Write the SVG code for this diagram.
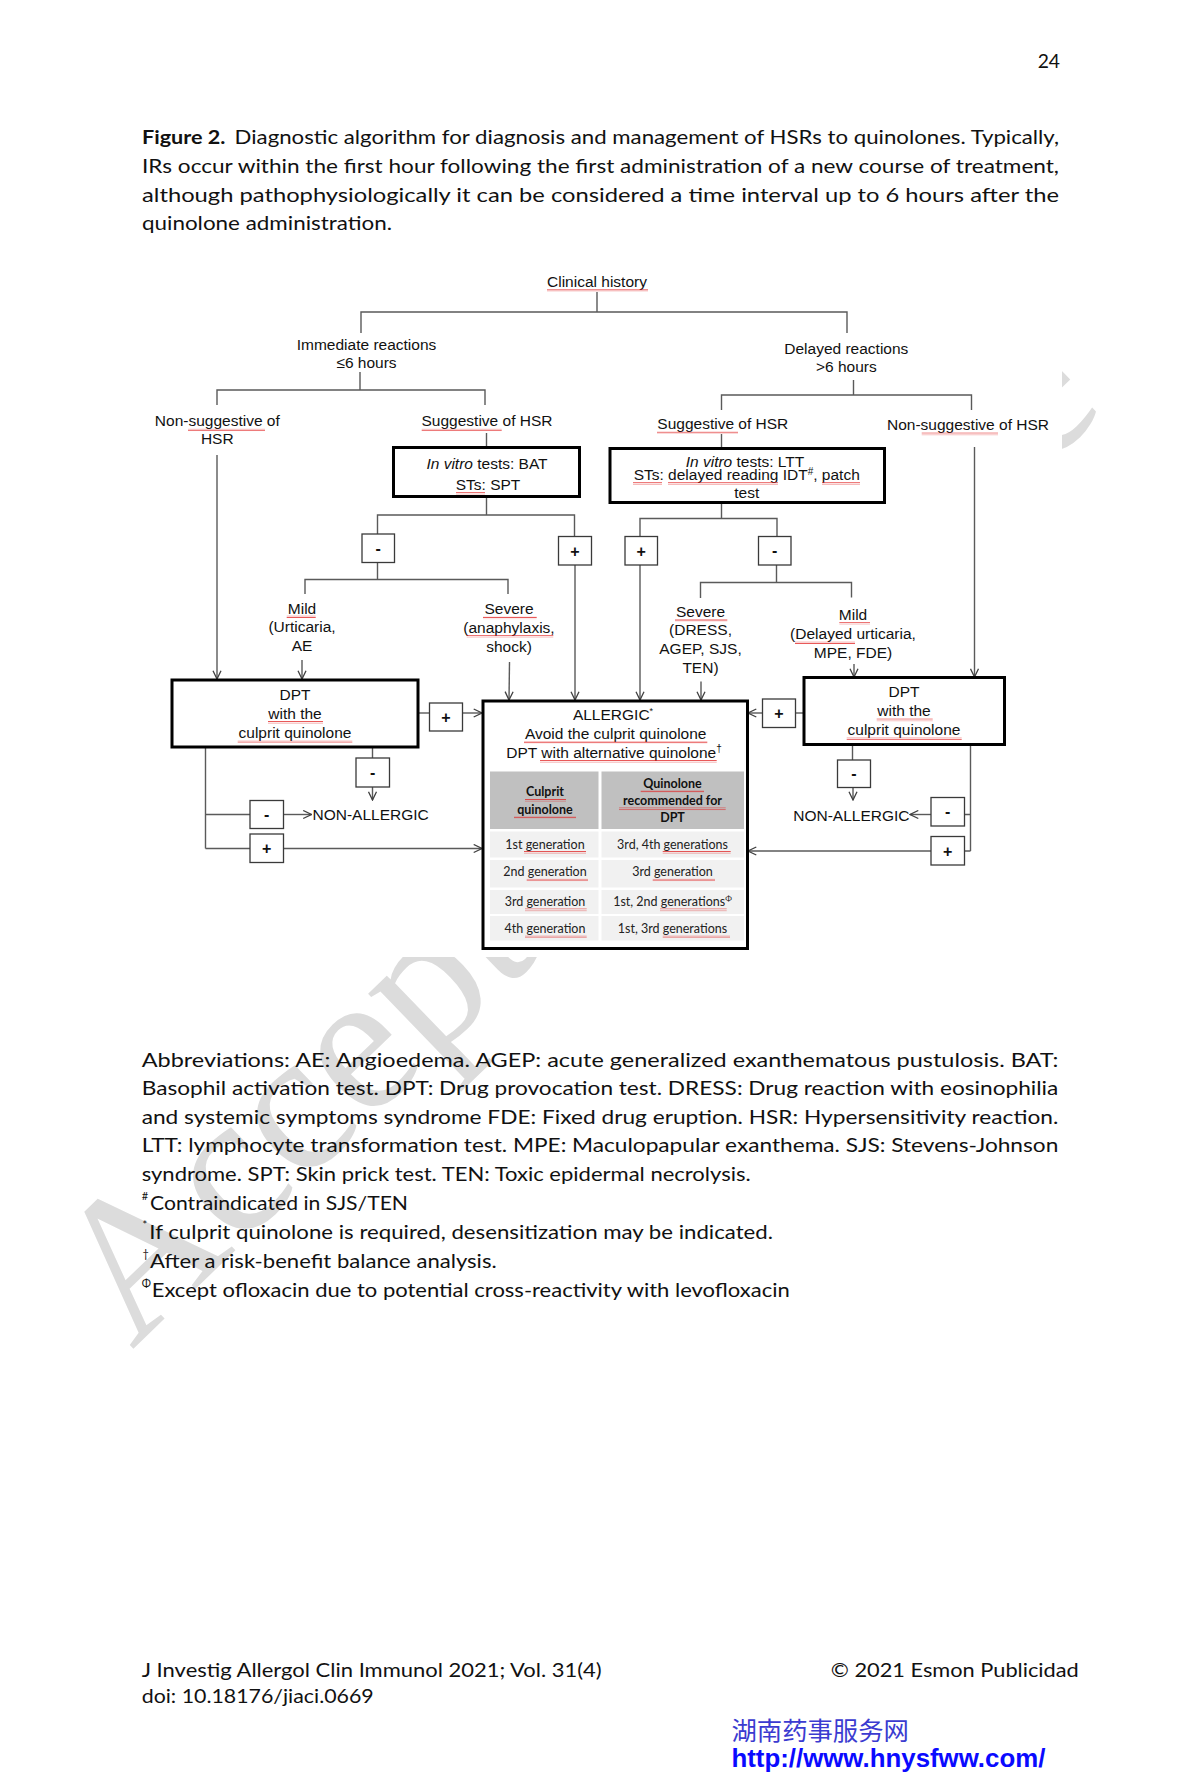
<svg xmlns="http://www.w3.org/2000/svg" width="1200" height="1781" viewBox="0 0 1200 1781">
<defs>
<style>
.cal{font-family:Lato,"Open Sans","Liberation Sans",sans-serif;font-size:19.3px;fill:#111}
.sup{font-family:Lato,"Open Sans","Liberation Sans",sans-serif;font-size:11px;fill:#111}
.t{font-family:"Liberation Sans",Arial,sans-serif;font-size:15.5px;fill:#111;text-anchor:middle}
.ts{font-family:"Liberation Sans",Arial,sans-serif;font-size:15.5px;fill:#111}
.pm{font-family:"Liberation Sans",Arial,sans-serif;font-size:16px;font-weight:bold;fill:#111;text-anchor:middle}
.tb{font-family:Lato,"Open Sans",sans-serif;font-size:12.5px;fill:#222;text-anchor:middle}
.tbh{font-family:Lato,"Open Sans",sans-serif;font-size:12.5px;font-weight:bold;fill:#111;text-anchor:middle}
.ln{stroke:#5a5a5a;stroke-width:1.4;fill:none}
.ar{stroke:#5a5a5a;stroke-width:1.4;fill:none;marker-end:url(#ah)}
.box{fill:#fff;stroke:#000;stroke-width:3}
.sb{fill:#fff;stroke:#3a3a3a;stroke-width:1.3}
.sq{fill:url(#wave)}
.hd{fill:#c0c0c0}
.rw{fill:#f1f1f1}
</style>
<marker id="ah" viewBox="0 0 10 10" refX="9.3" refY="5" markerWidth="10" markerHeight="10" markerUnits="userSpaceOnUse" orient="auto">
<path d="M1,1 L9.3,5 L1,9" fill="none" stroke="#404040" stroke-width="1.3"/>
</marker>
<pattern id="wave" x="0" y="0" width="2" height="2.6" patternUnits="userSpaceOnUse">
<path d="M0,2 L1,0.6 L2,2" fill="none" stroke="#e02020" stroke-width="0.7"/>
</pattern>
</defs>
<rect width="1200" height="1781" fill="#fff"/>

<g id="watermark">
<text x="0" y="0" transform="translate(132,1350) rotate(-44)" font-family="Liberation Serif,serif" font-size="201" fill="#dcdcdc">Accepted Article</text>
<rect x="145" y="262" width="917" height="695" fill="#fff"/>
</g>

<g id="page-text">
<text class="cal" x="1060" y="68" text-anchor="end">24</text>
<text class="cal" x="142" y="144" font-weight="bold" textLength="83.4" lengthAdjust="spacingAndGlyphs">Figure 2.</text>
<text class="cal" x="234.6" y="144" textLength="824.4" lengthAdjust="spacingAndGlyphs">Diagnostic algorithm for diagnosis and management of HSRs to quinolones. Typically,</text>
<text class="cal" x="142" y="173" textLength="917" lengthAdjust="spacingAndGlyphs">IRs occur within the first hour following the first administration of a new course of treatment,</text>
<text class="cal" x="142" y="201.7" textLength="917" lengthAdjust="spacingAndGlyphs">although pathophysiologically it can be considered a time interval up to 6 hours after the</text>
<text class="cal" x="142" y="230" textLength="250" lengthAdjust="spacingAndGlyphs">quinolone administration.</text>

<text class="cal" x="141.7" y="1066.7" textLength="916.6" lengthAdjust="spacingAndGlyphs">Abbreviations: AE: Angioedema. AGEP: acute generalized exanthematous pustulosis. BAT:</text>
<text class="cal" x="141.7" y="1095" textLength="916.6" lengthAdjust="spacingAndGlyphs">Basophil activation test. DPT: Drug provocation test. DRESS: Drug reaction with eosinophilia</text>
<text class="cal" x="141.7" y="1124" textLength="916.6" lengthAdjust="spacingAndGlyphs">and systemic symptoms syndrome FDE: Fixed drug eruption. HSR: Hypersensitivity reaction.</text>
<text class="cal" x="141.7" y="1152.3" textLength="916.6" lengthAdjust="spacingAndGlyphs">LTT: lymphocyte transformation test. MPE: Maculopapular exanthema.  SJS: Stevens-Johnson</text>
<text class="cal" x="141.7" y="1181" textLength="609" lengthAdjust="spacingAndGlyphs">syndrome. SPT: Skin prick test. TEN: Toxic epidermal necrolysis.</text>
<text class="sup" x="141.7" y="1200">#</text>
<text class="cal" x="150" y="1210" textLength="258" lengthAdjust="spacingAndGlyphs">Contraindicated in SJS/TEN</text>
<text class="sup" x="142.5" y="1229">*</text>
<text class="cal" x="149.3" y="1239.3" textLength="623.7" lengthAdjust="spacingAndGlyphs">If culprit quinolone is required, desensitization may be indicated.</text>
<text class="sup" x="142.5" y="1258">†</text>
<text class="cal" x="150" y="1268.3" textLength="346.7" lengthAdjust="spacingAndGlyphs">After a risk-benefit balance analysis.</text>
<text class="sup" x="141.7" y="1287">Φ</text>
<text class="cal" x="151.7" y="1296.7" textLength="638" lengthAdjust="spacingAndGlyphs">Except ofloxacin due to potential cross-reactivity with levofloxacin</text>

<text class="cal" x="141.7" y="1676.7" textLength="460" lengthAdjust="spacingAndGlyphs">J Investig Allergol Clin Immunol 2021; Vol. 31(4)</text>
<text class="cal" x="141.7" y="1703.3" textLength="232" lengthAdjust="spacingAndGlyphs">doi: 10.18176/jiaci.0669</text>
<text class="cal" x="830.8" y="1676.7" textLength="248" lengthAdjust="spacingAndGlyphs">© 2021 Esmon Publicidad</text>
<text x="731.4" y="1740" font-family="Noto Sans CJK SC,sans-serif" font-size="25" fill="#3b3bd0" textLength="177.6" lengthAdjust="spacingAndGlyphs">湖南药事服务网</text>
<text x="731.4" y="1766.7" font-family="Liberation Sans,Arial,sans-serif" font-size="25.5" font-weight="bold" fill="#0a0aff" textLength="314" lengthAdjust="spacingAndGlyphs">http://www.hnysfww.com/</text>
</g>

<g id="connectors">
<path class="ln" d="M597,292 V312 M361,333 V312 H847 V333"/>
<path class="ln" d="M360,372 V390 M217,405 V390 H485 V405"/>
<path class="ar" d="M217,455 V679"/>
<path class="ln" d="M486.5,433 V447"/>
<path class="ln" d="M486.5,497 V515 M377.5,534 V515 H574.5 V536.5"/>
<path class="ln" d="M377.5,562.5 V579.5 M305,594 V579.5 H508 V594"/>
<path class="ar" d="M302,660 V679"/>
<path class="ar" d="M509.5,662 L509,700"/>
<path class="ar" d="M575,565 V700"/>
<path class="ln" d="M418,713 H429.5"/>
<path class="ar" d="M462.5,713 H482"/>
<path class="ln" d="M372.5,747 V758"/>
<path class="ar" d="M372.5,787 V800"/>
<path class="ln" d="M205.5,747 V848.5 M205.5,814.5 H250 M205.5,848.5 H250"/>
<path class="ar" d="M283.5,814.5 H311.5"/>
<path class="ar" d="M283.5,848.5 H482"/>

<path class="ln" d="M853.5,380 V395 M721.5,410 V395 H971.5 V410"/>
<path class="ln" d="M721.5,434 V448.5"/>
<path class="ln" d="M721.5,503 V518.5 M640,536.5 V518.5 H777 V536.5"/>
<path class="ar" d="M640,565 V700"/>
<path class="ln" d="M776.5,565 V582.5 M700.5,598 V582.5 H851.5 V597.5"/>
<path class="ar" d="M701,681.5 V700"/>
<path class="ar" d="M854,664 V677"/>
<path class="ar" d="M974.5,447 V677"/>
<path class="ln" d="M804,713 H795.5"/>
<path class="ar" d="M762.5,713 H748"/>
<path class="ln" d="M852.5,744.5 V760"/>
<path class="ar" d="M853,787.5 V800"/>
<path class="ln" d="M970.5,744.5 V851 M970.5,814.5 H964.5 M970.5,851 H964.5"/>
<path class="ar" d="M931,814.5 H910"/>
<path class="ar" d="M931,851 H748"/>
</g>

<g id="clinical-history">
<text class="t" x="597" y="287">Clinical history</text>
<rect class="sq" x="547" y="289" width="101" height="2.6"/>
</g>
<g id="immediate">
<text class="t" x="366.5" y="350">Immediate reactions</text>
<text class="t" x="366.5" y="368">≤6 hours</text>
</g>
<g id="delayed">
<text class="t" x="846.3" y="354">Delayed reactions</text>
<text class="t" x="846.3" y="372">&gt;6 hours</text>
</g>
<g id="nonsug-left">
<text class="t" x="217.3" y="426">Non-suggestive of</text>
<text class="t" x="217.3" y="444">HSR</text>
<rect class="sq" x="188" y="428.5" width="77" height="2.6"/>
</g>
<g id="sug-left">
<text class="t" x="487" y="426">Suggestive of HSR</text>
<rect class="sq" x="421.7" y="428.5" width="80" height="2.6"/>
</g>
<g id="sug-right">
<text class="t" x="722.8" y="428.5">Suggestive of HSR</text>
<rect class="sq" x="657" y="431" width="81" height="2.6"/>
</g>
<g id="nonsug-right">
<text class="t" x="968" y="430">Non-suggestive of HSR</text>
<rect class="sq" x="921.7" y="432.5" width="76.3" height="2.6"/>
</g>

<g id="tests-immediate">
<rect class="box" x="393.5" y="447.5" width="186" height="49"/>
<text class="t" x="487" y="468.5"><tspan font-style="italic">In vitro</tspan> tests: BAT</text>
<text class="t" x="488" y="490">STs: SPT</text>
<rect class="sq" x="456" y="492" width="29" height="2.6"/>
</g>
<g id="tests-delayed">
<rect class="box" x="610" y="448.5" width="274.5" height="54"/>
<text class="t" x="745" y="466.5"><tspan font-style="italic">In vitro</tspan> tests: LTT</text>
<text class="t" x="746.7" y="480">STs: delayed reading IDT<tspan font-size="10" dy="-5">#</tspan><tspan dy="5">, patch</tspan></text>
<text class="t" x="746.7" y="497.5">test</text>
<rect class="sq" x="633" y="482" width="29" height="2.6"/>
<rect class="sq" x="668" y="482" width="110" height="2.6"/>
<rect class="sq" x="822" y="482" width="38" height="2.6"/>
</g>

<g id="signs">
<rect class="sb" x="362" y="534" width="32.5" height="28.5"/><text class="pm" x="378.2" y="553.5">-</text>
<rect class="sb" x="558.5" y="536.5" width="33" height="28.5"/><text class="pm" x="575" y="556.5">+</text>
<rect class="sb" x="625" y="536.5" width="32.5" height="28.5"/><text class="pm" x="641.2" y="556.5">+</text>
<rect class="sb" x="758.5" y="536.5" width="32.5" height="28.5"/><text class="pm" x="774.7" y="556">-</text>
<rect class="sb" x="429.5" y="703" width="33" height="28"/><text class="pm" x="446" y="723">+</text>
<rect class="sb" x="356" y="758" width="33.5" height="29"/><text class="pm" x="372.7" y="778">-</text>
<rect class="sb" x="250" y="800.5" width="33.5" height="28"/><text class="pm" x="266.7" y="820">-</text>
<rect class="sb" x="250" y="834" width="33.5" height="28.5"/><text class="pm" x="266.7" y="854">+</text>
<rect class="sb" x="762.5" y="699" width="33" height="28.5"/><text class="pm" x="779" y="719">+</text>
<rect class="sb" x="837.5" y="760" width="33" height="27.5"/><text class="pm" x="854" y="779">-</text>
<rect class="sb" x="931" y="797.5" width="33.5" height="28.5"/><text class="pm" x="947.7" y="817">-</text>
<rect class="sb" x="931" y="836.5" width="33.5" height="28.5"/><text class="pm" x="947.7" y="856.5">+</text>
</g>

<g id="mild-left">
<text class="t" x="302" y="613.5">Mild</text>
<text class="t" x="302" y="632">(Urticaria,</text>
<text class="t" x="302" y="650.5">AE</text>
<rect class="sq" x="286.7" y="615.5" width="29" height="2.6"/>
</g>
<g id="severe-left">
<text class="t" x="509" y="614">Severe</text>
<text class="t" x="509" y="632.5">(anaphylaxis,</text>
<text class="t" x="509" y="651.5">shock)</text>
<rect class="sq" x="483" y="616.5" width="53.7" height="2.6"/>
<rect class="sq" x="466.7" y="635" width="86.6" height="2.6"/>
</g>
<g id="severe-right">
<text class="t" x="700.5" y="617">Severe</text>
<text class="t" x="700.5" y="635">(DRESS,</text>
<text class="t" x="700.5" y="653.5">AGEP, SJS,</text>
<text class="t" x="700.5" y="672.5">TEN)</text>
<rect class="sq" x="675" y="619" width="52.3" height="2.6"/>
</g>
<g id="mild-right">
<text class="t" x="853" y="620">Mild</text>
<text class="t" x="853" y="639">(Delayed urticaria,</text>
<text class="t" x="853" y="658">MPE, FDE)</text>
<rect class="sq" x="839.3" y="622" width="30.7" height="2.6"/>
<rect class="sq" x="795" y="641.5" width="60" height="2.6"/>
</g>

<g id="dpt-left">
<rect class="box" x="172" y="680" width="246" height="67"/>
<text class="t" x="295" y="700">DPT</text>
<text class="t" x="295" y="718.5">with the</text>
<text class="t" x="295" y="737.5">culprit quinolone</text>
<rect class="sq" x="268" y="721" width="55" height="2.6"/>
<rect class="sq" x="237.7" y="740" width="114.6" height="2.6"/>
</g>
<g id="dpt-right">
<rect class="box" x="804" y="677.5" width="200.5" height="67"/>
<text class="t" x="904" y="697">DPT</text>
<text class="t" x="904" y="716">with the</text>
<text class="t" x="904" y="735">culprit quinolone</text>
<rect class="sq" x="876.7" y="718.5" width="56" height="2.6"/>
<rect class="sq" x="846.7" y="737.5" width="115" height="2.6"/>
</g>

<g id="non-allergic-left">
<text class="ts" x="312.5" y="820">NON-ALLERGIC</text>
</g>
<g id="non-allergic-right">
<text class="ts" x="909.5" y="821" style="text-anchor:end">NON-ALLERGIC</text>
</g>

<g id="allergic">
<rect class="box" x="483" y="701" width="264.5" height="247.5"/>
<text class="t" x="613" y="719.5">ALLERGIC<tspan font-size="9" dy="-6">*</tspan></text>
<text class="t" x="615.7" y="738.5">Avoid the culprit quinolone</text>
<text class="t" x="614" y="757.5">DPT with alternative quinolone<tspan font-size="10" dy="-6">†</tspan></text>
<rect class="sq" x="524" y="741" width="183.3" height="2.6"/>
<rect class="sq" x="540" y="760" width="176.7" height="2.6"/>
<rect class="hd" x="490" y="771.5" width="108.5" height="57.5"/>
<rect class="hd" x="601.5" y="771.5" width="142.5" height="57.5"/>
<rect class="rw" x="490" y="831.5" width="108.5" height="26"/>
<rect class="rw" x="601.5" y="831.5" width="142.5" height="26"/>
<rect class="rw" x="490" y="860" width="108.5" height="27.5"/>
<rect class="rw" x="601.5" y="860" width="142.5" height="27.5"/>
<rect class="rw" x="490" y="890" width="108.5" height="24"/>
<rect class="rw" x="601.5" y="890" width="142.5" height="24"/>
<rect class="rw" x="490" y="916" width="108.5" height="24.5"/>
<rect class="rw" x="601.5" y="916" width="142.5" height="24.5"/>
<text class="tbh" x="545" y="796">Culprit</text>
<text class="tbh" x="545" y="813.5">quinolone</text>
<text class="tbh" x="672.5" y="787.5">Quinolone</text>
<text class="tbh" x="672.5" y="805">recommended for</text>
<text class="tbh" x="672.5" y="821.5">DPT</text>
<rect class="sq" x="525" y="799" width="41" height="2.6"/>
<rect class="sq" x="514" y="816" width="62" height="2.6"/>
<rect class="sq" x="640.7" y="790" width="63.3" height="2.6"/>
<rect class="sq" x="619" y="807.5" width="106.7" height="2.6"/>
<text class="tb" x="545" y="848.5">1st generation</text>
<text class="tb" x="545" y="876">2nd generation</text>
<text class="tb" x="545" y="906">3rd generation</text>
<text class="tb" x="545" y="932.5">4th generation</text>
<text class="tb" x="672.5" y="848.5">3rd, 4th generations</text>
<text class="tb" x="672.5" y="876">3rd generation</text>
<text class="tb" x="672.5" y="906">1st, 2nd generations<tspan font-size="8" dy="-5">Φ</tspan></text>
<text class="tb" x="672.5" y="932.5">1st, 3rd generations</text>
<rect class="sq" x="524" y="851" width="62" height="2.6"/>
<rect class="sq" x="526.7" y="878.5" width="61.3" height="2.6"/>
<rect class="sq" x="525" y="908.5" width="61.7" height="2.6"/>
<rect class="sq" x="525" y="935" width="61.7" height="2.6"/>
<rect class="sq" x="662.7" y="851" width="68" height="2.6"/>
<rect class="sq" x="652.7" y="878.5" width="62.3" height="2.6"/>
<rect class="sq" x="660" y="908.5" width="66.7" height="2.6"/>
<rect class="sq" x="662.7" y="935" width="67.3" height="2.6"/>
</g>
</svg>
